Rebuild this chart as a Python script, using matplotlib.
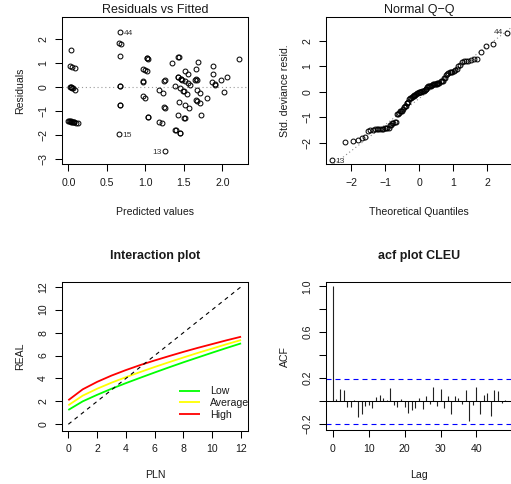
import numpy as np
import matplotlib
matplotlib.use("Agg")
import matplotlib.pyplot as plt
from statistics import NormalDist

plt.rcParams['font.family'] = ['Liberation Sans', 'DejaVu Sans']

# ---------------- data ----------------
fitted = [0.04, 0.02, 0.05, 0.09, 0.02, 0.04, 0.06, 0.09, 0.03, 0.05,
          0.00, 0.02, 0.04, 0.06, 0.08, 0.10, 0.13, 0.01, 0.03, 0.05, 0.07,
          0.67, 0.66, 0.69, 0.67, 0.67, 0.67, 0.67, 0.67, 0.66,
          0.97, 1.00, 1.02, 1.02, 1.03, 1.02, 0.97, 0.97, 0.97, 1.00, 1.03, 1.03,
          1.18, 1.23, 1.25, 1.24, 1.24, 1.26, 1.18, 1.22, 1.26,
          1.35, 1.43, 1.44, 1.38, 1.43, 1.46, 1.48, 1.51, 1.55, 1.58, 1.45, 1.49,
          1.50, 1.54, 1.44, 1.51, 1.57, 1.43, 1.50, 1.51, 1.39, 1.40, 1.45, 1.45,
          1.52, 1.56, 1.42, 1.47,
          1.68, 1.66, 1.66, 1.67, 1.65, 1.67, 1.71, 1.66, 1.67, 1.71, 1.72,
          1.80, 1.88, 1.88, 1.87, 1.90, 1.91, 1.98, 2.06, 2.02, 2.22]
residuals = [1.55, 0.87, 0.83, 0.79, 0.00, -0.01, -0.04, -0.10, 0.00, -0.02,
             -1.40, -1.42, -1.44, -1.45, -1.47, -1.48, -1.50, -1.41, -1.43, -1.46, -1.46,
             2.32, 1.86, 1.80, 1.30, 0.05, 0.04, -0.75, -0.76, -1.97,
             0.78, 0.72, 0.68, 1.21, 1.20, 1.22, 0.24, 0.23, -0.39, -0.45, -1.23, -1.24,
             -0.13, -0.24, 0.29, 0.28, -0.85, -0.88, -1.47, -1.52, -2.66,
             1.02, 1.27, 1.26, 0.04, 0.43, 0.36, 0.30, 0.24, 0.18, 0.08, -0.03, -0.15,
             -0.16, -0.30, -0.60, -0.76, -0.87, -1.18, -1.30, -1.31, -1.78, -1.80, -1.90, -1.91,
             0.66, 0.56, 0.42, 0.34,
             1.06, 0.77, 0.33, 0.31, 0.32, -0.12, -0.23, -0.55, -0.57, -0.68, -1.18,
             -0.45, 0.90, 0.54, 0.22, 0.12, 0.10, 0.29, 0.43, -0.20, 1.17]
id_labels = ['13', '44', '15']          # three largest |residuals|, in decreasing order

pln = [0, 1, 2, 3, 4, 5, 6, 7, 8, 9, 10, 11, 12]
real_low = [1.25, 2.0, 2.57, 3.1, 3.59, 4.06, 4.52, 4.97, 5.41, 5.83, 6.25, 6.66, 7.06]
real_average = [1.66, 2.5, 3.1, 3.63, 4.11, 4.56, 5.0, 5.42, 5.83, 6.23, 6.61, 6.99, 7.35]
real_high = [2.1, 3.05, 3.7, 4.25, 4.73, 5.17, 5.57, 5.95, 6.32, 6.67, 7.0, 7.33, 7.64]
group_names = ['Low', 'Average', 'High']
group_colors = ['#00FF00', '#FFFF00', '#FF0000']

acf_values = [1.0, 0.02, 0.108, 0.10, -0.055, -0.055, 0.01, -0.14, -0.11, -0.044,
              -0.035, -0.058, 0.035, 0.05, 0.023, 0.012, 0.11, -0.032, -0.055, 0.015,
              -0.05, -0.10, -0.076, -0.06, 0.026, -0.073, 0.044, -0.03, 0.122, -0.047,
              0.108, -0.058, 0.044, -0.11, 0.044, 0.023, -0.026, 0.10, -0.178, -0.038,
              0.122, -0.11, 0.055, 0.073, -0.13, 0.10, 0.087, -0.015, 0.006]

# ---------------- layout helpers ----------------
W, H = 511, 484
FS = 7.6
TFS = 9.0
TXT = '#1a1a1a'
fig = plt.figure(figsize=(W / 100, H / 100), dpi=100)


def add_ax(x0, x1, y0, y1):
    return fig.add_axes([x0 / W, 1 - y1 / H, (x1 - x0) / W, (y1 - y0) / H])


def style(ax):
    for s in ax.spines.values():
        s.set_linewidth(0.75)
        s.set_color('black')
    ax.tick_params(direction='out', length=5.2, width=0.75, pad=4.5,
                   labelsize=FS, colors='black', labelcolor=TXT)


def mlabel(v, fmt):
    return (fmt % v).replace('-', '\u2212')


def set_yt(ax, ticks, labels):
    ax.set_yticks(ticks, labels=labels, rotation=90, va='center', fontsize=FS)


def set_xt(ax, ticks, labels):
    ax.set_xticks(ticks, labels=labels, fontsize=FS)


def ftext(x, y, s, **kw):
    fig.text(x / W, 1 - y / H, s, color=TXT, **kw)


def titles(xc, ytitle, title, xlab_y, xlab, ylab_x, ylab, yc, bold=False):
    ftext(xc, ytitle, title, ha='center', va='baseline', fontsize=TFS,
          fontweight='bold' if bold else 'normal')
    ftext(xc, xlab_y, xlab, ha='center', va='baseline', fontsize=FS)
    ftext(ylab_x, yc, ylab, ha='center', va='baseline', fontsize=FS,
          rotation=90, rotation_mode='anchor')


r = np.array(residuals)
f = np.array(fitted)
mark = dict(marker='o', ms=3.5, mfc='none', mec='black', mew=0.72, ls='none')

# ---------------- Residuals vs Fitted ----------------
ax1 = add_ax(62, 248, 17, 164.3)
style(ax1)
ax1.axhline(0, ls=(0, (1, 2.5)), color='#9a9a9a', lw=0.8)
ax1.plot(f, r, **mark)
ax1.set_xlim(-0.082, 2.334)
ax1.set_ylim(-3.23, 2.94)
set_xt(ax1, [0.0, 0.5, 1.0, 1.5, 2.0], [mlabel(v, '%.1f') for v in [0.0, 0.5, 1.0, 1.5, 2.0]])
set_yt(ax1, [-3, -2, -1, 0, 1, 2], [mlabel(v, '%d') for v in [-3, -2, -1, 0, 1, 2]])
order = np.argsort(-np.abs(r))[:3]
for lab, i in zip(id_labels, order):
    right = f[i] < 1.0 or r[i] > 0
    ax1.annotate(lab, (f[i], r[i]), xytext=(2.6 if right else -2.6, -1),
                 textcoords='offset points', ha='left' if right else 'right',
                 va='center', fontsize=6, color='#333333')
titles(155, 12.7, 'Residuals vs Fitted', 215, 'Predicted values', 23, 'Residuals', 90.6)

# ---------------- Normal Q-Q ----------------
ax2 = add_ax(326, 512, 17, 164.3)
style(ax2)
n = len(r)
nd = NormalDist()
theo = np.array([nd.inv_cdf((i - 0.5) / n) for i in range(1, n + 1)])
srt = np.sort(r)
yq = np.quantile(r, [0.25, 0.75])
xq = np.array([nd.inv_cdf(0.25), nd.inv_cdf(0.75)])
slope = (yq[1] - yq[0]) / (xq[1] - xq[0])
icpt = yq[0] - slope * xq[0]
ax2.axline((0, icpt), slope=slope, ls=(0, (1, 2.5)), color='#8a8a8a', lw=0.8)
ax2.plot(theo, srt, **mark)
ax2.set_xlim(-2.74, 2.73)
ax2.set_ylim(-2.84, 2.93)
set_xt(ax2, [-2, -1, 0, 1, 2], [mlabel(v, '%d') for v in [-2, -1, 0, 1, 2]])
set_yt(ax2, [-2, -1, 0, 1, 2], [mlabel(v, '%d') for v in [-2, -1, 0, 1, 2]])
ax2.annotate(id_labels[0], (theo[0], srt[0]), xytext=(2.6, -1), textcoords='offset points',
             ha='left', va='center', fontsize=6, color='#333333')
ax2.annotate(id_labels[1], (theo[-1], srt[-1]), xytext=(-2.6, 0), textcoords='offset points',
             ha='right', va='center', fontsize=6, color='#333333')
titles(419, 12.7, 'Normal Q\u2212Q', 215, 'Theoretical Quantiles', 287.5,
       'Std. deviance resid.', 90.6)

# ---------------- Interaction plot ----------------
ax3 = add_ax(61.7, 247.7, 281.7, 430.7)
style(ax3)
for vals, name, col in zip([real_low, real_average, real_high], group_names, group_colors):
    ax3.plot(pln, vals, color=col, lw=1.3, label=name, solid_capstyle='butt')
ax3.plot([pln[0], pln[-1]], [pln[0], pln[-1]], color='black', lw=0.8, ls=(0, (3.6, 3.6)))
ax3.set_xlim(-0.46, 12.46)
ax3.set_ylim(-0.56, 12.44)
set_xt(ax3, list(range(0, 13, 2)), [str(v) for v in range(0, 13, 2)])
set_yt(ax3, list(range(0, 13, 2)), [str(v) for v in range(0, 13, 2)])
leg = ax3.legend(loc='upper left', bbox_to_anchor=(179 / W, 1 - 386.5 / H),
                 bbox_transform=fig.transFigure, frameon=False, fontsize=FS,
                 handlelength=2.0, handletextpad=0.95, labelspacing=0.16,
                 borderpad=0, borderaxespad=0)
for t in leg.get_texts():
    t.set_color(TXT)
titles(155, 259.5, 'Interaction plot', 478.5, 'PLN', 23, 'REAL', 356.2, bold=True)

# ---------------- ACF ----------------
ax4 = add_ax(326, 512, 281.7, 430.3)
style(ax4)
lags = np.arange(len(acf_values))
ci = 1.96 / np.sqrt(n)
ax4.vlines(lags, 0, acf_values, color='#222222', lw=0.8)
ax4.axhline(0, color='black', lw=0.75)
for c in (ci, -ci):
    ax4.axhline(c, color='#0000FF', lw=0.8, ls=(0, (4.5, 3.6)))
ax4.set_xlim(-1.9, 49.9)
ax4.set_ylim(-0.255, 1.04)
set_xt(ax4, [0, 10, 20, 30, 40], ['0', '10', '20', '30', '40'])
yt = [-0.2, 0.0, 0.2, 0.4, 0.6, 0.8, 1.0]
set_yt(ax4, yt, [mlabel(v, '%.1f') if k % 2 == 0 else '' for k, v in enumerate(yt)])
titles(419, 259.5, 'acf plot CLEU', 478.5, 'Lag', 287.5, 'ACF', 356.2, bold=True)

fig.savefig('out.png', dpi=100)
